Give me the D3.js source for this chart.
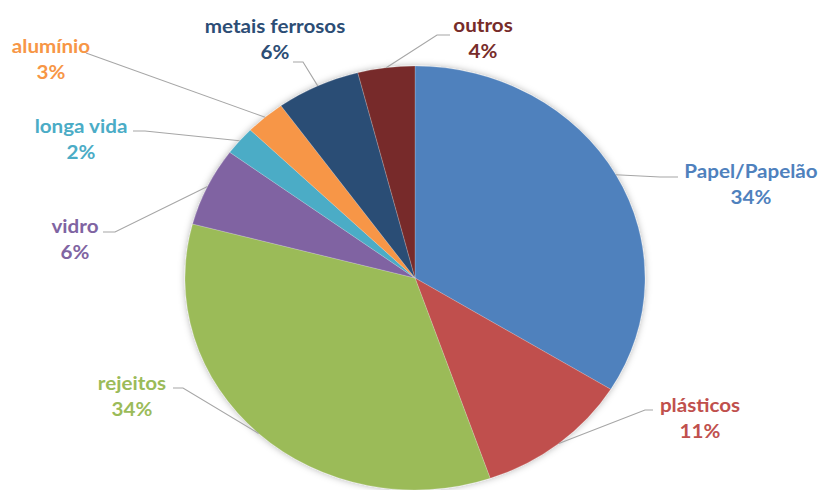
<!DOCTYPE html>
<html><head><meta charset="utf-8">
<script src="https://cdn.jsdelivr.net/npm/d3@7"></script>
<style>html,body{margin:0;padding:0;background:#fff;}svg{display:block;}</style>
</head><body>
<svg id="chart" width="823" height="490"></svg>
<script>
const categories = ["Papel/Papelão","plásticos","rejeitos","vidro","longa vida","alumínio","metais ferrosos","outros"];
const values = [33.8, 10.9, 34.4, 6.0, 2.2, 2.8, 5.9, 4.0];
const percentLabels = ["34%","11%","34%","6%","2%","3%","6%","4%"];
const colors = ["#4F81BD","#C0504D","#9BBB59","#8064A2","#4BACC6","#F79646","#2C4D75","#772C2A"];
const labelColors = ["#4F81BD","#C0504D","#9BBB59","#8064A2","#4BACC6","#F79646","#2C4D75","#772C2A"];
// label layout: center x, baseline of first line, leader start point and elbow
const labelLayout = [
  {x:751, y:178, lx:678, ly:177, ex:660, ey:177},
  {x:700, y:412, lx:653, ly:410, ex:645, ey:410},
  {x:132, y:390, lx:173, ly:388, ex:183, ey:388},
  {x:75,  y:233, lx:103, ly:232, ex:115, ey:232},
  {x:81,  y:133, lx:133, ly:131, ex:145, ey:131},
  {x:51,  y:53,  lx:86,  ly:53,  ex:86,  ey:53},
  {x:275, y:33,  lx:293, ly:62,  ex:303, ey:62},
  {x:483, y:32,  lx:450, ly:35,  ex:437, ey:35}
];

const cx = 415, cy = 278, rx = 230, ry = 212;
const sx = rx / ry;
const svg = d3.select("#chart");

const defs = svg.append("defs");
const f = defs.append("filter").attr("id","shadow").attr("x","-10%").attr("y","-10%").attr("width","120%").attr("height","120%");
f.append("feDropShadow").attr("dx",0).attr("dy",0).attr("stdDeviation",3.5).attr("flood-color","#000").attr("flood-opacity",0.3);

const data = categories.map((c,i)=>({name:c, value:values[i], i}));
const pie = d3.pie().value(d=>d.value).sort(null);
const arcs = pie(data);
const arc = d3.arc().innerRadius(0).outerRadius(ry);

const g = svg.append("g").attr("transform",`translate(${cx},${cy}) scale(${sx},1)`).attr("filter","url(#shadow)");
g.selectAll("path").data(arcs).join("path")
  .attr("d", arc)
  .attr("fill", d=>colors[d.data.i])
  .attr("stroke","rgba(255,255,255,0.3)")
  .attr("stroke-width",0.6);

// leader lines
const lg = svg.append("g");
arcs.forEach(a=>{
  const L = labelLayout[a.data.i];
  const mid = (a.startAngle + a.endAngle)/2;
  const px = cx + rx*Math.sin(mid), py = cy - ry*Math.cos(mid);
  lg.append("polyline")
    .attr("points", `${L.lx},${L.ly} ${L.ex},${L.ey} ${px},${py}`)
    .attr("fill","none").attr("stroke","#A6A6A6").attr("stroke-width",1.1);
});

// labels
const tg = svg.append("g").style("font-family","Lato, 'Open Sans', sans-serif").style("font-weight","bold").style("font-size","19px");
arcs.forEach(a=>{
  const i = a.data.i, L = labelLayout[i];
  const t = tg.append("g").attr("transform",`translate(${L.x},${L.y}) scale(${sx},1)`);
  t.append("text").attr("text-anchor","middle").attr("fill",labelColors[i]).text(categories[i]);
  t.append("text").attr("text-anchor","middle").attr("y",26).attr("fill",labelColors[i]).text(percentLabels[i]);
});
</script>
</body></html>
